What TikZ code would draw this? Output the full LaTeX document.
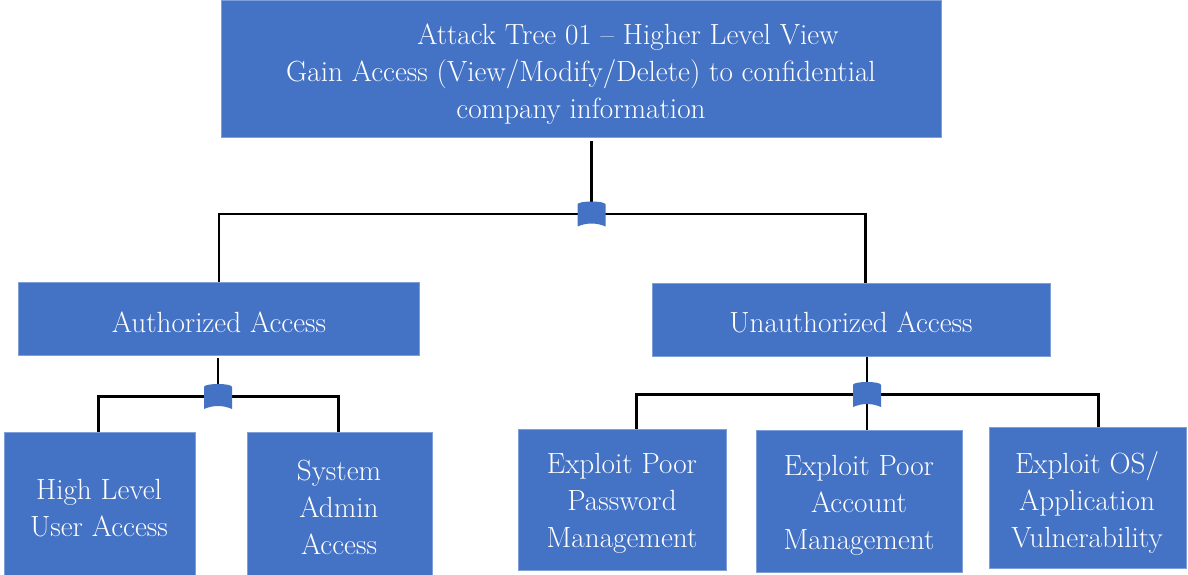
\documentclass[tikz,border=0pt]{standalone}
\definecolor{boxblue}{HTML}{4472C4}
\definecolor{boxedge}{HTML}{7F9FD9}
\begin{document}
\begin{tikzpicture}[x=1pt,y=-1pt,
  box/.style={draw=boxedge, line width=1pt, fill=boxblue, inner sep=0pt, anchor=north west},
  txt/.style={text=white, align=center, inner sep=0pt, font=\fontsize{29.2}{37}\selectfont},
  conn/.style={draw=black, line width=2.2pt},
  gate/.pic={\fill[boxblue] (-14,12.5) -- (-14,-9.5) .. controls (-14,-13.5) and (14,-13.5) .. (14,-9.5) -- (14,12.5) .. controls (5,8.5) and (-5,8.5) .. (-14,12.5) -- cycle;}]
\useasboundingbox (0,0) rectangle (1188,575);
% boxes
\node[box, minimum width=720pt, minimum height=137pt] (top) at (221,0) {};
\node[box, minimum width=401pt, minimum height=73pt] (auth) at (18,282) {};
\node[box, minimum width=398pt, minimum height=73pt] (unauth) at (652,283) {};
\node[box, minimum width=191pt, minimum height=150pt] (hl) at (4,432) {};
\node[box, minimum width=185pt, minimum height=150pt] (sa) at (247,432) {};
\node[box, minimum width=208pt, minimum height=141pt] (pw) at (518,429) {};
\node[box, minimum width=206pt, minimum height=142pt] (ac) at (756,430) {};
\node[box, minimum width=197pt, minimum height=141pt] (os) at (989,427) {};
% texts
\node[txt] (ttop) at (581,74.5) {\hspace*{94pt}Attack Tree 01 -- Higher Level View\\Gain Access (View/Modify/Delete) to confidential\\company information};
\node[txt] (tauth) at (219,322) {Authorized Access};
\node[txt] (tunauth) at (851,322) {Unauthorized Access};
\node[txt] (thl) at (99,508.5) {High Level\\User Access};
\node[txt] (tsa) at (339,507) {System\\Admin\\Access};
\node[txt] (tpw) at (622,503) {Exploit Poor\\Password\\Management};
\node[txt] (tac) at (859,505) {Exploit Poor\\Account\\Management};
\node[txt] (tos) at (1087,502.5) {Exploit OS/\\Application\\Vulnerability};
% gate coordinates
\coordinate (g1) at (591.5,214);
\coordinate (g2) at (218,396.5);
\coordinate (g3) at (867,394.5);
% connectors
\draw[conn] ([yshift=-3pt]g1 |- top.south) -- (g1);
\draw[conn] (auth.north) |- (g1) -| ([xshift=14pt]unauth.north);
\draw[conn] ([yshift=-2pt]g2 |- auth.south) -- (g2);
\draw[conn] ([xshift=-1.5pt]hl.north) |- (g2) -| ([xshift=-1.5pt]sa.north);
\draw[conn] (g3 |- unauth.south) -- (g3);
\draw[conn] ([xshift=14pt]pw.north) |- (g3) -| ([xshift=10.5pt]os.north);
\draw[conn] (g3) -- (g3 |- ac.north);
% gates
\pic at (g1) {gate};
\pic at (g2) {gate};
\pic at (g3) {gate};
\end{tikzpicture}
\end{document}
